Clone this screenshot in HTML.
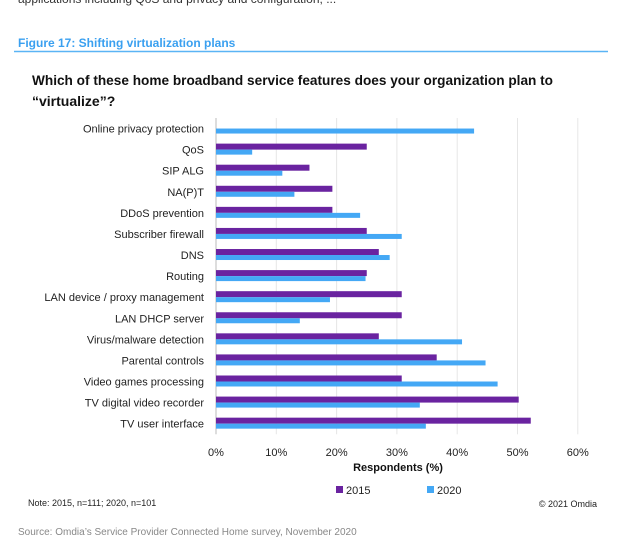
<!DOCTYPE html>
<html><head><meta charset="utf-8"><style>
body{margin:0;width:624px;height:547px;background:#fff;overflow:hidden;font-family:"Liberation Sans",Arial,sans-serif;}
</style></head><body>
<svg width="624" height="547" xmlns="http://www.w3.org/2000/svg">
<text x="18" y="3" font-size="12" fill="#333">applications including QoS and privacy and configuration, ...</text>
<text x="18" y="47" font-size="12" font-weight="bold" fill="#3aa0f0">Figure 17: Shifting virtualization plans</text>
<line x1="14" y1="51.5" x2="608" y2="51.5" stroke="#5ab4f5" stroke-width="1.5"/>
<text x="32" y="85" font-size="14" font-weight="bold" fill="#111" textLength="521" lengthAdjust="spacingAndGlyphs">Which of these home broadband  service features does your organization  plan to</text>
<text x="32" y="106" font-size="14" font-weight="bold" fill="#111">“virtualize”?</text>
<g id="plot"></g>
<text x="398" y="471" font-size="11" font-weight="bold" text-anchor="middle" fill="#111">Respondents (%)</text>
<rect x="336" y="486" width="7" height="7" fill="#6a23a0"/>
<text x="346" y="494" font-size="11" fill="#222">2015</text>
<rect x="427" y="486" width="7" height="7" fill="#44a8f5"/>
<text x="437" y="494" font-size="11" fill="#222">2020</text>
<text x="28" y="506" font-size="9" fill="#222">Note: 2015, n=111; 2020, n=101</text>
<text x="597" y="507" font-size="9" text-anchor="end" fill="#222">© 2021 Omdia</text>
<text x="18" y="535" font-size="10" fill="#888">Source: Omdia’s Service Provider Connected Home survey, November 2020</text>
</svg>
<script>
const categories=["Online privacy protection","QoS","SIP ALG","NA(P)T","DDoS prevention","Subscriber firewall","DNS","Routing","LAN device / proxy management","LAN DHCP server","Virus/malware detection","Parental controls","Video games processing","TV digital video recorder","TV user interface"];
const values2015=[0,25,15.5,19.3,19.3,25,27,25,30.8,30.8,27,36.6,30.8,50.2,52.2];
const values2020=[42.8,6,11,13,23.9,30.8,28.8,24.8,18.9,13.9,40.8,44.7,46.7,33.8,34.8];
const ticks=[0,10,20,30,40,50,60];
const NS="http://www.w3.org/2000/svg";
const g=document.getElementById('plot');
const x0=216,pxPer=6.03,top0=118,rowH=21.08;
const xs=v=>x0+v*pxPer;
const yc=i=>top0+rowH*(i+0.5);
function mk(t,a){const e=document.createElementNS(NS,t);for(const k in a)e.setAttribute(k,a[k]);g.appendChild(e);return e;}
ticks.forEach(t=>{
 const l=mk('line',{x1:xs(t),x2:xs(t),y1:top0,y2:top0+rowH*categories.length,stroke:t===0?'#bbb':'#e6e6e6','stroke-width':1});
 
 
 const tx=mk('text',{x:xs(t),y:456,'font-size':11,'text-anchor':'middle',fill:'#222'});
 tx.textContent=t+'%';
 
 
});
categories.forEach((c,i)=>{
 const y=yc(i);
 const lb=mk('text',{x:204,y:y+4,'font-size':11,'text-anchor':'end',fill:'#222'});
 lb.textContent=c;
 
 
 if(values2015[i]>0){
  const b=mk('rect',{x:x0,y:y-6,width:xs(values2015[i])-x0,height:6,fill:'#6a23a0'});
  
  
 }
 const b2=mk('rect',{x:x0,y:y,width:xs(values2020[i])-x0,height:5,fill:'#44a8f5'});
 
 
});
</script>
</body></html>
